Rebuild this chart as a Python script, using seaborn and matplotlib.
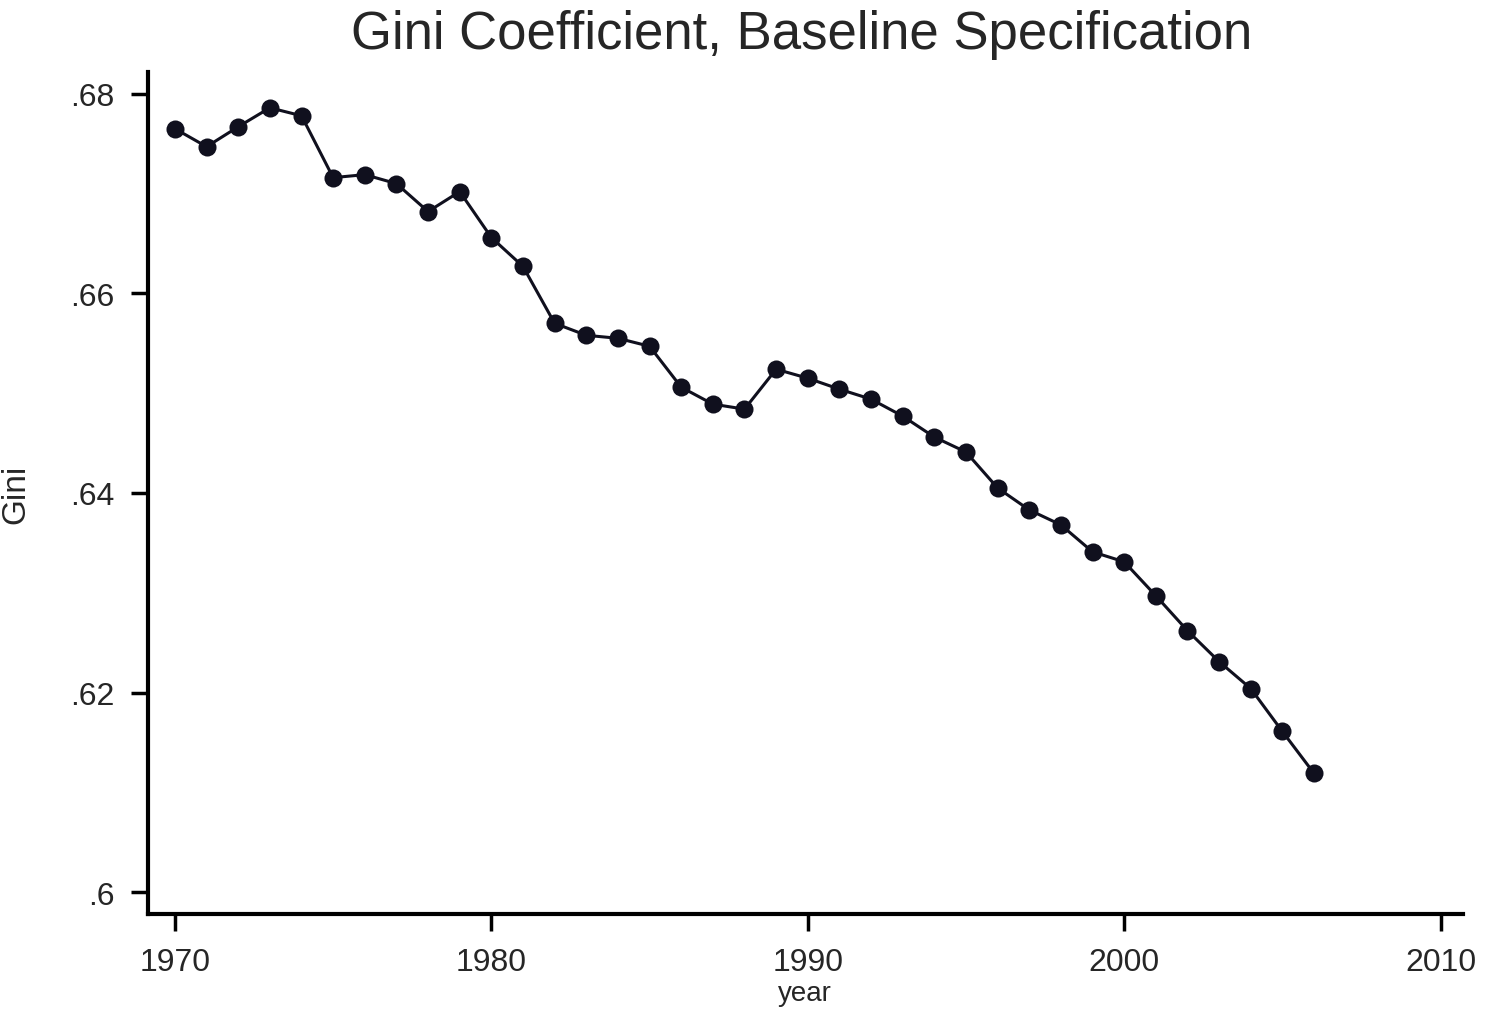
import pandas as pd
import numpy as np
import matplotlib as mpl
mpl.use('Agg')
from matplotlib import pyplot as plt
import seaborn as sns

years = list(range(1970, 2007))
gini = [0.6765, 0.6747, 0.6767, 0.6786, 0.6778, 0.6716, 0.6719, 0.6710,
        0.6682, 0.6702, 0.6656, 0.6627, 0.6570, 0.6558, 0.6555, 0.6547,
        0.6506, 0.6489, 0.6484, 0.6524, 0.6515, 0.6504, 0.6494, 0.6477,
        0.6456, 0.6441, 0.6405, 0.6383, 0.6368, 0.6341, 0.6331, 0.6297,
        0.6262, 0.6231, 0.6204, 0.6161, 0.6119]
yticks = [0.6, 0.62, 0.64, 0.66, 0.68]
ytick_labels = ['.6', '.62', '.64', '.66', '.68']
xticks = [1970, 1980, 1990, 2000, 2010]

df = pd.DataFrame({'year': years, 'Gini': gini})

sns.set_style('ticks')
plt.rcParams['font.family'] = ['Liberation Sans', 'DejaVu Sans']

fig = plt.figure(figsize=(14.85, 10.12), dpi=100)
ax = fig.add_axes([0.0997, 0.0958, 0.8853, 0.8322])

sns.lineplot(x='year', y='Gini', data=df, ax=ax, color='#10101e',
             linewidth=2.2, marker='o', markersize=13, markeredgewidth=0)

ax.set_xlim(1969.15, 2010.7)
ax.set_ylim(0.5978, 0.6822)
ax.set_xticks(xticks)
ax.set_xticklabels([str(x) for x in xticks])
ax.set_yticks(yticks)
ax.set_yticklabels(ytick_labels)
ax.tick_params(axis='both', direction='out', length=12, width=2.5,
               labelsize=23, color='black', pad=12)
for s in ['left', 'bottom']:
    ax.spines[s].set_linewidth(3)
    ax.spines[s].set_color('black')
sns.despine(ax=ax)

ax.set_xlabel('year', fontsize=20, labelpad=2)
ax.set_ylabel('Gini', fontsize=24, labelpad=28)
fig.suptitle('Gini Coefficient, Baseline Specification', fontsize=38,
             y=0.99, va='top', x=0.54)

fig.savefig('out.png', dpi=100, facecolor='white')
